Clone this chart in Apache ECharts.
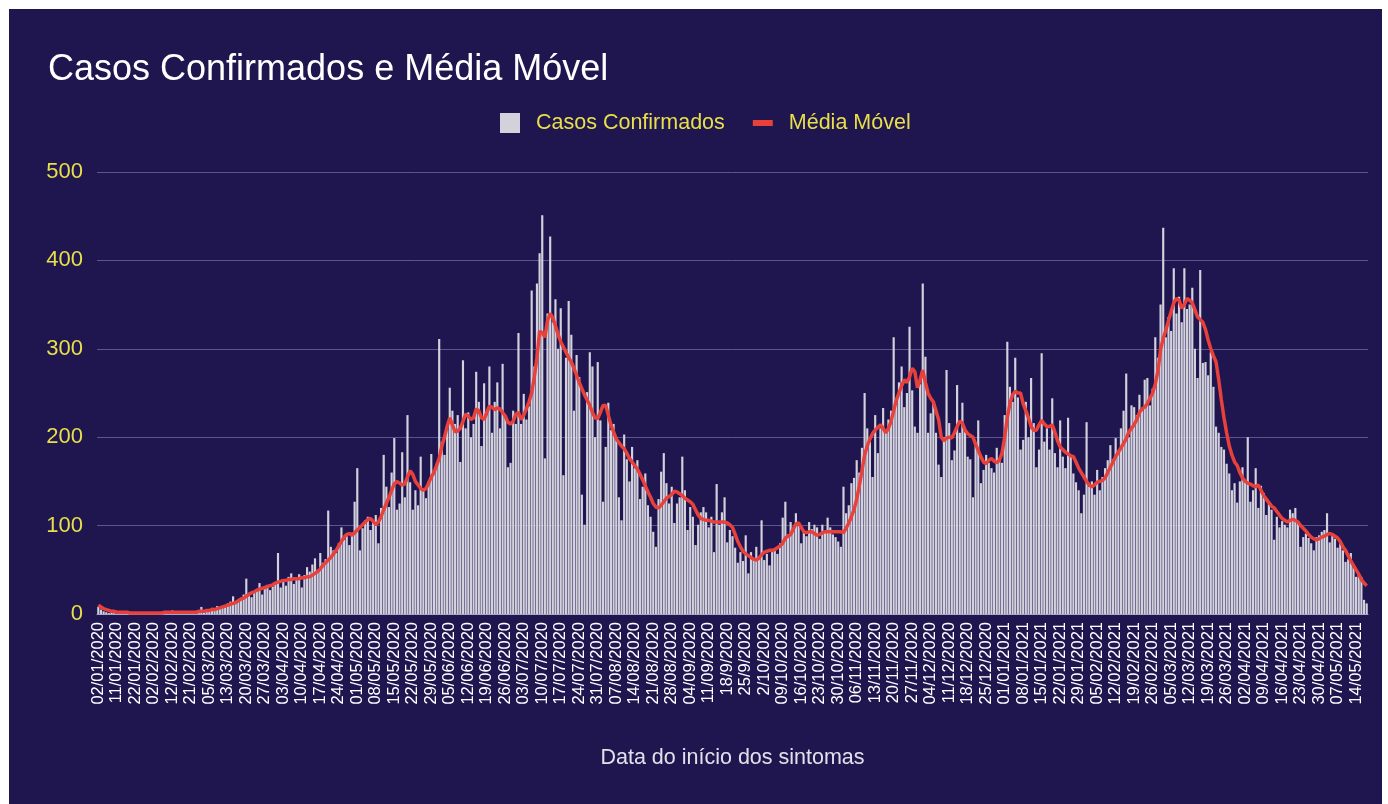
<!DOCTYPE html>
<html>
<head>
<meta charset="utf-8">
<title>Casos Confirmados e Média Móvel</title>
<script src="https://cdn.jsdelivr.net/npm/echarts@6.0.0/dist/echarts.min.js"></script>
<style>
  html, body { margin: 0; padding: 0; background: #ffffff; }
  #chart { position: absolute; left: 9px; top: 9px; width: 1373px; height: 795px; }
</style>
</head>
<body>
<div id="chart"></div>
<script>
// rótulos do eixo x (um a cada 7 dias)
var tickLabels = [
  '02/01/2020', '11/01/2020', '22/01/2020', '02/02/2020', '12/02/2020', '21/02/2020', '05/03/2020',
  '13/03/2020', '20/03/2020', '27/03/2020', '03/04/2020', '10/04/2020', '17/04/2020', '24/04/2020',
  '01/05/2020', '08/05/2020', '15/05/2020', '22/05/2020', '29/05/2020', '05/06/2020', '12/06/2020',
  '19/06/2020', '26/06/2020', '03/07/2020', '10/07/2020', '17/07/2020', '24/07/2020', '31/07/2020',
  '07/08/2020', '14/08/2020', '21/08/2020', '28/08/2020', '04/09/2020', '11/09/2020', '18/9/2020',
  '25/9/2020', '2/10/2020', '09/10/2020', '16/10/2020', '23/10/2020', '30/10/2020', '06/11/2020',
  '13/11/2020', '20/11/2020', '27/11/2020', '04/12/2020', '11/12/2020', '18/12/2020', '25/12/2020',
  '01/01/2021', '08/01/2021', '15/01/2021', '22/01/2021', '29/01/2021', '05/02/2021', '12/02/2021',
  '19/02/2021', '26/02/2021', '05/03/2021', '12/03/2021', '19/03/2021', '26/03/2021', '02/04/2021',
  '09/04/2021', '16/04/2021', '23/04/2021', '30/04/2021', '07/05/2021', '14/05/2021'
];

// casos confirmados por dia
var casos = [
  8,5,3,2,1,2,1,0,1,2,
  1,0,2,1,0,1,0,2,1,1,
  0,1,2,1,1,3,1,2,4,2,
  1,2,1,3,2,1,3,2,4,8,
  3,5,4,7,5,9,6,8,10,12,
  14,20,12,16,18,22,40,24,19,26,
  28,35,22,30,33,27,31,36,69,30,
  38,32,42,46,34,40,45,30,44,53,
  48,56,63,50,69,58,62,117,76,72,
  69,80,98,84,88,78,92,127,165,72,
  97,106,110,95,103,112,80,120,180,144,
  121,160,199,118,125,183,132,225,149,118,
  140,123,178,142,131,150,181,163,170,311,
  195,180,208,256,230,215,225,172,287,210,
  228,200,215,274,240,190,261,225,280,205,
  240,262,210,283,225,166,171,230,215,318,
  215,249,220,235,366,280,374,408,451,176,
  340,427,330,356,300,346,157,290,354,316,
  230,293,268,135,101,251,296,280,200,285,
  219,127,189,239,208,215,200,132,106,203,
  175,150,189,165,174,130,144,159,123,110,
  93,76,130,161,182,148,125,144,103,125,
  132,178,140,95,121,110,78,101,115,121,
  115,98,110,70,147,101,115,132,81,95,
  88,75,58,70,60,89,46,70,62,76,
  65,106,61,68,55,70,72,68,80,109,
  127,90,104,95,114,100,80,92,88,104,
  96,101,98,85,101,92,109,98,90,87,
  82,76,144,114,123,148,154,174,160,188,
  250,210,195,155,225,182,210,233,205,220,
  230,313,240,262,280,234,250,325,253,212,
  205,260,374,291,205,227,240,205,169,155,
  200,276,216,174,185,259,205,239,208,178,
  175,132,190,219,148,163,180,171,165,160,
  188,175,171,225,308,257,240,290,245,186,
  197,240,200,267,216,166,186,295,195,210,
  186,244,182,166,219,178,165,222,180,159,
  149,140,114,135,217,144,150,135,163,140,
  155,165,174,191,175,199,182,210,230,272,
  200,236,234,225,248,230,265,267,236,255,
  313,290,350,437,313,336,320,391,340,359,
  330,391,345,350,369,300,267,389,284,285,
  270,296,257,212,205,189,186,170,159,140,
  148,126,150,166,150,200,127,140,165,120,
  145,137,112,125,118,84,110,98,105,101,
  98,118,114,120,105,76,87,91,86,80,
  72,87,89,93,95,114,81,89,85,75,
  80,72,59,62,69,53,42,45,42,16,12
];

// média móvel
var mediaMovel = [
  10,8,6,5,4,3,3,2,2,2,
  2,2,1,1,1,1,1,1,1,1,
  1,1,1,1,1,2,2,2,2,2,
  2,2,2,2,2,2,2,2,3,3,
  3,4,4,5,5,6,7,8,9,10,
  11,12,13,15,17,18,20,22,24,25,
  27,28,29,30,31,32,33,35,36,37,
  38,38,39,39,40,40,40,41,41,42,
  42,44,46,48,51,55,58,61,64,68,
  72,77,82,87,90,91,89,92,95,98,
  101,104,107,108,105,101,104,110,118,125,
  132,140,147,150,148,146,147,155,162,158,
  150,146,142,140,142,148,155,160,168,176,
  190,200,212,222,214,206,207,210,218,226,
  224,220,222,232,230,222,220,228,235,234,
  231,233,232,228,224,217,215,218,226,228,
  220,225,232,240,250,268,290,320,318,313,
  332,340,335,326,316,308,302,296,290,285,
  278,270,262,255,248,242,236,228,222,221,
  228,236,236,225,214,206,198,194,190,187,
  182,176,172,168,164,158,152,145,138,132,
  125,121,120,123,127,131,133,135,139,138,
  136,134,131,129,127,124,118,112,108,107,
  106,106,105,104,104,104,104,104,103,101,
  98,90,82,76,71,68,66,64,62,61,
  63,67,70,71,72,72,73,75,77,80,
  86,88,90,96,102,103,98,93,92,93,
  93,91,89,90,92,93,93,93,93,93,
  93,93,92,97,103,110,118,130,145,162,
  180,190,198,204,208,211,214,210,205,210,
  218,230,242,250,258,265,262,268,278,274,
  256,265,276,262,250,244,240,230,220,200,
  196,199,200,199,205,212,218,216,208,204,
  202,200,192,185,178,172,170,174,176,173,
  171,174,182,200,222,238,248,252,250,250,
  238,230,222,212,208,208,214,219,215,212,
  212,214,206,196,189,186,183,181,179,178,
  172,165,160,155,150,146,144,146,149,150,
  151,154,160,166,172,178,183,188,193,198,
  206,210,214,220,228,232,234,238,244,250,
  260,275,299,312,321,332,342,352,357,355,
  346,350,357,355,352,344,336,333,330,322,
  310,300,292,285,265,242,222,205,190,180,
  172,168,160,154,150,148,147,145,144,146,
  140,134,130,126,122,120,116,112,108,106,
  104,106,107,106,104,100,97,94,90,87,
  85,84,85,87,88,90,91,90,88,86,
  82,76,72,66,60,55,50,45,39,35,32
];

var dias = casos.map(function (v, i) { return 'd' + i; });

var fonte = "'Liberation Sans', Arial, sans-serif";

var chart = echarts.init(document.getElementById('chart'));
var option = {
  animation: false,
  backgroundColor: '#1f1650',
  textStyle: { fontFamily: fonte },
  title: {
    text: 'Casos Confirmados e Média Móvel',
    left: 39,
    top: 43,
    padding: 0,
    textStyle: { color: '#ffffff', fontSize: 36, fontWeight: 'normal', fontFamily: fonte }
  },
  legend: {
    left: 491,
    top: 103,
    padding: 0,
    itemWidth: 20,
    itemHeight: 20,
    itemGap: 28,
    textStyle: { color: '#e8df4a', fontSize: 21.5, fontFamily: fonte, padding: [0, 0, 0, 11] },
    data: [
      { name: 'Casos Confirmados', icon: 'rect' },
      { name: 'Média Móvel', icon: 'path://M0,0h20v6h-20z' }
    ]
  },
  grid: { left: 88, top: 163, width: 1271, height: 442 },
  xAxis: {
    type: 'category',
    data: dias,
    boundaryGap: true,
    name: 'Data do início dos sintomas',
    nameLocation: 'middle',
    nameGap: 133,
    nameTextStyle: { color: '#e2e1ea', fontSize: 21.5, fontFamily: fonte },
    axisLine: { show: true, lineStyle: { color: '#aaa7c6', width: 1 } },
    axisTick: { show: false },
    axisLabel: {
      interval: 6,
      rotate: 90,
      margin: 8,
      color: '#ffffff',
      fontSize: 16.5,
      fontFamily: fonte,
      formatter: function (v, idx) { return tickLabels[idx / 7] || ''; }
    }
  },
  yAxis: {
    type: 'value',
    min: 0,
    max: 500,
    interval: 100,
    axisLine: { show: false },
    axisTick: { show: false },
    axisLabel: { color: '#e8df4a', fontSize: 22, margin: 14, fontFamily: fonte },
    splitLine: { lineStyle: { color: '#5d558d', width: 1 } }
  },
  series: [
    {
      name: 'Casos Confirmados',
      type: 'bar',
      data: casos,
      barCategoryGap: '18%',
      itemStyle: { color: '#d2d1dc' }
    },
    {
      name: 'Média Móvel',
      type: 'line',
      data: mediaMovel,
      symbol: 'none',
      z: 5,
      itemStyle: { color: '#e8403a' },
      lineStyle: { color: '#e8403a', width: 3.5 }
    }
  ]
};
chart.setOption(option);
</script>
</body>
</html>
